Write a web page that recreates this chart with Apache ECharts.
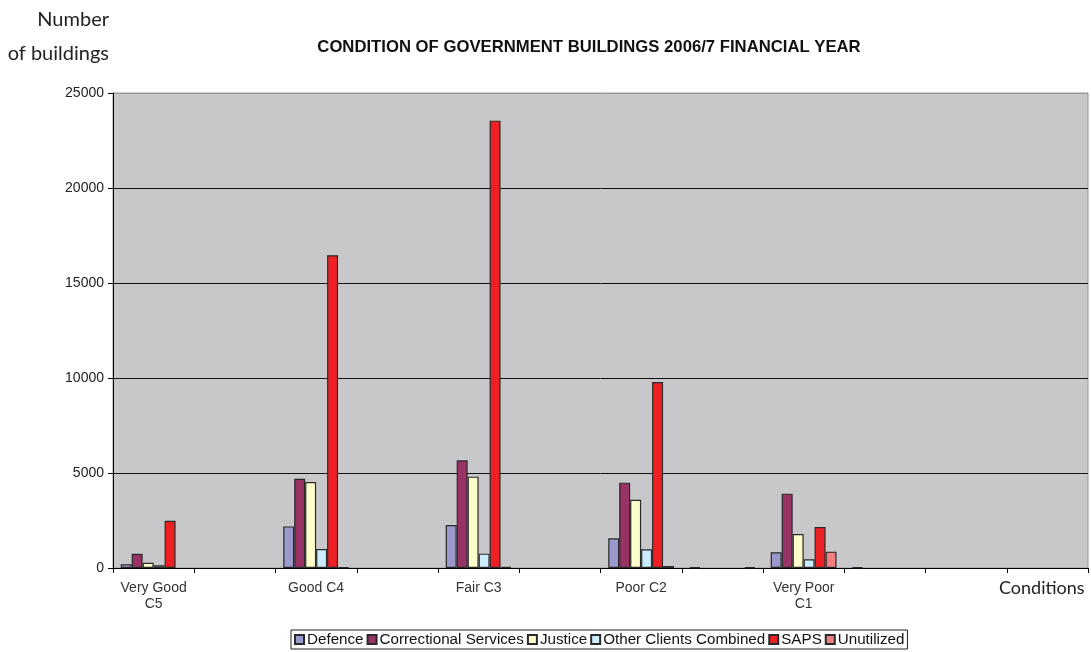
<!DOCTYPE html>
<html>
<head>
<meta charset="utf-8">
<script src="https://cdn.jsdelivr.net/npm/echarts@6/dist/echarts.min.js"></script>
<style>
  html, body { margin: 0; padding: 0; background: #ffffff; }
  #chart { width: 1091px; height: 652px; }
</style>
</head>
<body>
<div id="chart"></div>
<script>
// Condition classes on the x axis (every second slot is a spacer)
const categories = ['Very Good\nC5', '', 'Good C4', '', 'Fair C3', '', 'Poor C2', '', 'Very Poor\nC1', '', '', ''];

// Number of buildings per client department
const defence      = [200, null, 2190, null, 2263, null, 1561, 40, 825, 40, null, null];
const correctional = [750, null, 4700, null, 5667, null, 4491, null, 3912, null, null, null];
const justice      = [280, null, 4525, null, 4807, null, 3596, null, 1789, null, null, null];
const otherClients = [140, null, 1000, null, 754, null, 982, null, 456, null, null, null];
const saps         = [2490, null, 16460, null, 23545, null, 9790, null, 2158, null, null, null];
const unutilized   = [null, null, 30, null, 60, null, 105, 40, 860, null, null, null];

const seriesNames = ['Defence', 'Correctional Services', 'Justice', 'Other Clients Combined', 'SAPS', 'Unutilized'];
const seriesData = [defence, correctional, justice, otherClients, saps, unutilized];
const seriesColors = ['#9999CC', '#993366', '#FFFFCC', '#CCECFF', '#EE2024', '#F28080'];

const yTicks = { min: 0, max: 25000, step: 5000 };

const chart = echarts.init(document.getElementById('chart'), null, { renderer: 'canvas' });

const option = {
  animation: false,
  backgroundColor: '#ffffff',
  textStyle: { fontFamily: 'Liberation Sans, Arial, sans-serif' },
  title: {
    text: 'CONDITION OF GOVERNMENT BUILDINGS 2006/7 FINANCIAL YEAR',
    left: 584,
    top: 34,
    textAlign: 'center',
    textStyle: { fontSize: 16.7, fontWeight: 'bold', color: '#111', fontFamily: 'Liberation Sans, Arial, sans-serif' }
  },
  grid: {
    left: 113, right: 3, top: 93, bottom: 84,
    show: true,
    backgroundColor: '#C8C8CA',
    borderColor: '#999999',
    borderWidth: 1,
    containLabel: false
  },
  legend: {
    data: seriesNames,
    bottom: 3,
    left: 291,
    icon: 'rect',
    itemWidth: 9,
    itemHeight: 9,
    itemGap: 3,
    padding: [2, 3, 2, 3],
    borderColor: '#222',
    borderWidth: 1,
    borderRadius: 0,
    textStyle: { fontSize: 15.2, color: '#111', padding: [0, 0, 0, -2], fontFamily: 'Liberation Sans, Arial, sans-serif' }
  },
  xAxis: {
    type: 'category',
    data: categories,
    boundaryGap: true,
    axisLine: { show: true, lineStyle: { color: '#000', width: 1 } },
    axisTick: { show: true, interval: 0, length: 5, lineStyle: { color: '#000' } },
    axisLabel: { interval: 0, fontSize: 14, color: '#333', lineHeight: 16, margin: 12 },
    splitLine: { show: false }
  },
  yAxis: {
    type: 'value',
    min: yTicks.min,
    max: yTicks.max,
    interval: yTicks.step,
    axisLine: { show: true, lineStyle: { color: '#000', width: 1 } },
    axisTick: { show: true, length: 5, lineStyle: { color: '#000' } },
    axisLabel: { fontSize: 14, color: '#222', margin: 9, formatter: (v) => String(v) },
    splitLine: { show: true, lineStyle: { color: ['#111', '#111', '#111', '#111', '#111', '#999'], width: 1 } }
  },
  graphic: [
    {
      type: 'text', right: 1091 - 109, top: 10,
      style: { text: 'Number', fill: '#222', font: '20px Lato, "Open Sans", sans-serif', textAlign: 'right' }
    },
    {
      type: 'text', right: 1091 - 109, top: 44,
      style: { text: 'of buildings', fill: '#222', font: '20px Lato, "Open Sans", sans-serif', textAlign: 'right' }
    },
    {
      type: 'text', left: 999, top: 579,
      style: { text: 'Conditions', fill: '#222', font: '18px Lato, "Open Sans", sans-serif' }
    }
  ],
  series: seriesNames.map((name, i) => ({
    name,
    type: 'bar',
    data: seriesData[i],
    barGap: '0%',
    barCategoryGap: '19%',
    itemStyle: { color: seriesColors[i], borderColor: '#2a2a2a', borderWidth: 1.2 }
  }))
};

chart.setOption(option);
</script>
</body>
</html>
